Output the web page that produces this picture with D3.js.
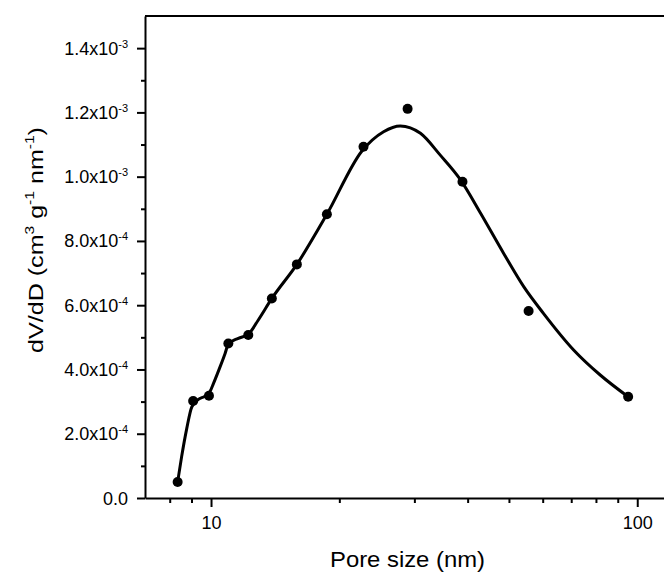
<!DOCTYPE html>
<html>
<head>
<meta charset="utf-8">
<script src="https://cdn.jsdelivr.net/npm/d3@7"></script>
<style>
    body { margin: 0; background: #fff; }
    #chart { width: 664px; height: 573px; overflow: hidden; }
    text { font-family: "Liberation Sans", Arial, sans-serif; fill: #000; }
</style>
</head>
<body>
<div id="chart"></div>
<script>
// measured points (pore size in nm, dV/dD in cm3 g-1 nm-1)
const poreSize = [8.35, 9.08, 9.89, 10.98, 12.23, 13.89, 15.9, 18.7, 22.79, 28.92, 38.9, 55.6, 95.2];
const dvdd = [0.050e-3, 0.302e-3, 0.318e-3, 0.481e-3, 0.507e-3, 0.621e-3, 0.727e-3, 0.883e-3, 1.093e-3, 1.211e-3, 0.984e-3, 0.582e-3, 0.315e-3];

// fitted curve
const fitSize = [8.35, 8.53, 8.77, 9.01, 9.34, 9.68, 9.95, 10.13, 10.5, 10.79, 10.98, 11.59, 12.24, 12.91, 13.89, 15.9, 18.7, 22.6, 25.4, 27.8, 31.0, 34.5, 38.5, 42.9, 48.6, 54.2, 60.3, 71.0, 82.0, 95.2];
const fitDvdd = [0.050e-3, 0.128e-3, 0.216e-3, 0.283e-3, 0.307e-3, 0.317e-3, 0.332e-3, 0.356e-3, 0.408e-3, 0.450e-3, 0.479e-3, 0.497e-3, 0.510e-3, 0.554e-3, 0.621e-3, 0.727e-3, 0.883e-3, 1.080e-3, 1.140e-3, 1.158e-3, 1.135e-3, 1.067e-3, 0.990e-3, 0.886e-3, 0.761e-3, 0.657e-3, 0.574e-3, 0.460e-3, 0.382e-3, 0.315e-3];

// axis ticks
const xMajorTicks = [10, 100];
const xMajorLabels = ["10", "100"];
const xMinorTicks = [8, 9, 20, 30, 40, 50, 60, 70, 80, 90];
const yMajorTicks = [0, 2e-4, 4e-4, 6e-4, 8e-4, 1.0e-3, 1.2e-3, 1.4e-3];
const yTickMantissa = ["0.0", "2.0x10", "4.0x10", "6.0x10", "8.0x10", "1.0x10", "1.2x10", "1.4x10"];
const yTickExponent = ["", "-4", "-4", "-4", "-4", "-3", "-3", "-3"];
const yMinorTicks = [1e-4, 3e-4, 5e-4, 7e-4, 9e-4, 1.1e-3, 1.3e-3];

class PoreSizeChart {
    constructor(containerId) {
        this.containerId = containerId;
        this.left = 145;
        this.right = 671;   // frame runs past the window edge
        this.top = 16;
        this.bottom = 498;

        this.svg = d3.select(`#${this.containerId}`)
            .append("svg")
            .attr("width", 664)
            .attr("height", 573);

        this.xScale = d3.scaleLog()
            .domain([7, 120])
            .range([this.left, this.right]);

        this.yScale = d3.scaleLinear()
            .domain([0, 1.5e-3])
            .range([this.bottom, this.top]);

        this.drawAxes();
        this.drawData();
        this.drawLabels();
    }

    drawAxes() {
        const svg = this.svg;

        // top frame line
        svg.append("line")
            .attr("x1", this.left).attr("x2", this.right)
            .attr("y1", this.top).attr("y2", this.top)
            .attr("stroke", "#000")
            .attr("stroke-width", 2);

        // x axis minor ticks
        svg.append("g")
            .attr("transform", "translate(0," + this.bottom + ")")
            .call(d3.axisBottom(this.xScale).tickValues(xMinorTicks).tickSize(5).tickSizeOuter(0).tickFormat(""))
            .call(g => g.select(".domain").remove())
            .selectAll("line").attr("stroke-width", 2);

        // x axis major ticks
        const xAxis = svg.append("g")
            .attr("class", "x axis")
            .attr("transform", "translate(0," + this.bottom + ")")
            .call(d3.axisBottom(this.xScale).tickValues(xMajorTicks).tickSize(9).tickSizeOuter(0)
                .tickFormat((d, i) => xMajorLabels[i]));
        xAxis.select(".domain").attr("stroke-width", 2);
        xAxis.selectAll("line").attr("stroke-width", 2);
        xAxis.selectAll("text")
            .attr("y", 31)
            .attr("dy", 0)
            .style("font-size", "18px")
            .style("font-family", "'Liberation Sans', Arial, sans-serif");

        // y axis minor ticks
        svg.append("g")
            .attr("transform", "translate(" + this.left + ",0)")
            .call(d3.axisLeft(this.yScale).tickValues(yMinorTicks).tickSize(4).tickSizeOuter(0).tickFormat(""))
            .call(g => g.select(".domain").remove())
            .selectAll("line").attr("stroke-width", 2);

        // y axis major ticks
        const yAxis = svg.append("g")
            .attr("class", "y axis")
            .attr("transform", "translate(" + this.left + ",0)")
            .call(d3.axisLeft(this.yScale).tickValues(yMajorTicks).tickSize(8).tickSizeOuter(0).tickFormat(""));
        yAxis.select(".domain").attr("stroke-width", 2);
        yAxis.selectAll("line").attr("stroke-width", 2);

        // y tick labels with superscript exponents
        const labels = svg.append("g").attr("class", "y labels");
        yMajorTicks.forEach((v, i) => {
            const t = labels.append("text")
                .attr("x", 128)
                .attr("y", this.yScale(v) + 6.5)
                .attr("text-anchor", "end")
                .style("font-size", "18px");
            t.append("tspan").text(yTickMantissa[i]);
            if (yTickExponent[i]) {
                t.append("tspan")
                    .attr("dy", -7)
                    .style("font-size", "11px")
                    .text(yTickExponent[i]);
            }
        });
    }

    drawData() {
        const line = d3.line()
            .x((d, i) => this.xScale(fitSize[i]))
            .y(d => this.yScale(d))
            .curve(d3.curveMonotoneX);

        this.svg.append("path")
            .datum(fitDvdd)
            .attr("d", line)
            .attr("fill", "none")
            .attr("stroke", "#000")
            .attr("stroke-width", 3);

        this.svg.selectAll(".dot")
            .data(dvdd)
            .enter().append("circle")
            .attr("class", "dot")
            .attr("cx", (d, i) => this.xScale(poreSize[i]))
            .attr("cy", d => this.yScale(d))
            .attr("r", 5)
            .attr("fill", "#000");
    }

    drawLabels() {
        // x-axis label
        this.svg.append("text")
            .attr("x", 407.5)
            .attr("y", 567)
            .attr("text-anchor", "middle")
            .attr("textLength", 155)
            .attr("lengthAdjust", "spacingAndGlyphs")
            .style("font-size", "22px")
            .text("Pore size (nm)");

        // y-axis label
        const yl = this.svg.append("text")
            .attr("transform", "translate(43,240) rotate(-90)")
            .attr("text-anchor", "middle")
            .attr("textLength", 226)
            .attr("lengthAdjust", "spacingAndGlyphs")
            .style("font-size", "21px");
        yl.append("tspan").text("dV/dD (cm");
        yl.append("tspan").attr("dy", -9).style("font-size", "13px").text("3");
        yl.append("tspan").attr("dy", 9).text(" g");
        yl.append("tspan").attr("dy", -9).style("font-size", "13px").text("-1");
        yl.append("tspan").attr("dy", 9).text(" nm");
        yl.append("tspan").attr("dy", -9).style("font-size", "13px").text("-1");
        yl.append("tspan").attr("dy", 9).text(")");
    }
}

new PoreSizeChart("chart");
</script>
</body>
</html>
